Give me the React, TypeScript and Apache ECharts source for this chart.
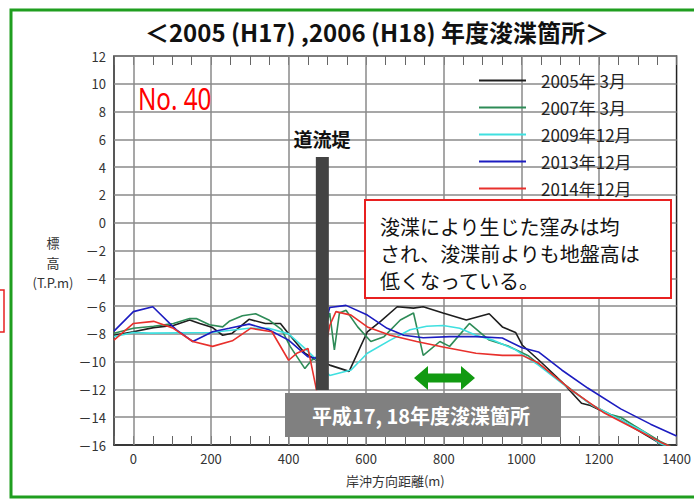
import React, { useEffect, useRef } from "react";
import * as echarts from "echarts";

// ---- data (distance m, elevation T.P.m) ----
const names = ["2005年 3月", "2007年 3月", "2009年12月", "2013年12月", "2014年12月"];
const colors = ["#1e1e1e", "#2e8b57", "#3fe0e0", "#1c1cc0", "#e8302c"];

const s2005: [number, number][] = [
  [-50, -8.1], [0, -7.85], [52, -7.55], [103, -7.4], [145, -7.0], [171, -7.25], [204, -7.55],
  [230, -8.1], [255, -7.95], [298, -6.95], [340, -7.25], [379, -7.25], [400, -8.0], [442, -9.4],
  [472, -9.9], [506, -10.25], [556, -10.7], [603, -7.85], [637, -7.1], [680, -6.05], [722, -6.15],
  [747, -6.05], [798, -6.5], [858, -7.0], [917, -6.55], [951, -7.5], [985, -7.9], [1002, -8.8],
  [1053, -10.1], [1104, -11.45], [1155, -13.0], [1178, -13.15], [1256, -14.2], [1358, -15.9], [1400, -16.3],
];
const s2007: [number, number][] = [
  [-50, -7.95], [0, -7.6], [52, -7.45], [103, -7.25], [145, -6.9], [162, -6.9], [196, -7.35],
  [230, -7.5], [247, -7.1], [281, -6.7], [315, -6.55], [349, -7.0], [382, -7.7], [404, -8.9],
  [442, -10.5], [459, -9.9], [472, -9.7], [506, -6.5], [518, -9.15], [531, -6.5], [548, -6.3],
  [578, -7.5], [612, -8.55], [646, -8.2], [688, -7.0], [722, -6.5], [747, -9.55], [790, -8.55],
  [815, -8.9], [866, -7.25], [917, -8.45], [968, -8.9], [1019, -9.6], [1104, -11.5], [1180, -13.1],
  [1230, -13.8], [1256, -14.0], [1290, -14.6], [1358, -15.75], [1400, -16.3],
];
const s2009: [number, number][] = [
  [-50, -8.2], [0, -7.9], [43, -7.95], [200, -7.9], [298, -7.6], [349, -7.6], [400, -8.0],
  [442, -9.05], [468, -9.75], [506, -11.0], [561, -10.6], [603, -9.4], [662, -8.45], [713, -7.7],
  [756, -7.45], [798, -7.4], [841, -7.6], [883, -8.1], [926, -8.45], [985, -9.15], [1044, -10.25],
  [1104, -11.55], [1180, -13.1], [1256, -14.2], [1316, -15.05], [1358, -15.9], [1400, -16.4],
];
const s2013: [number, number][] = [
  [-50, -7.8], [0, -6.4], [50, -6.05], [110, -7.7], [153, -8.55], [204, -7.85], [247, -7.6],
  [298, -7.3], [349, -7.7], [400, -8.45], [450, -9.65], [471, -9.75], [506, -6.1], [548, -5.95],
  [603, -6.65], [654, -7.6], [697, -8.1], [747, -8.28], [815, -8.2], [883, -8.2], [951, -8.3],
  [1002, -9.0], [1044, -9.3], [1104, -10.6], [1171, -11.9], [1256, -13.4], [1333, -14.5], [1400, -15.35],
];
const s2014: [number, number][] = [
  [-50, -8.45], [0, -7.25], [52, -7.1], [103, -7.6], [153, -8.55], [204, -8.9], [255, -8.5],
  [302, -7.6], [357, -7.85], [400, -9.9], [421, -9.4], [450, -9.05], [472, -12.05], [506, -7.4],
  [522, -6.4], [561, -6.65], [603, -7.5], [662, -8.1], [730, -8.55], [798, -8.95], [883, -9.4],
  [951, -9.55], [1002, -9.55], [1044, -10.1], [1129, -12.05], [1214, -13.7], [1290, -14.8],
  [1366, -15.9], [1400, -16.3],
];
const jetty: [number, number][] = [[487, -12.05], [487, 4.73]];

const gridX = [0, 200, 400, 600, 800, 1000, 1200];
const xLabelValues = [0, 200, 400, 600, 800, 1000, 1200, 1400];
const X_MIN = -50;
const X_MAX = 1400;
const Y_MIN = -16;
const Y_MAX = 12;

const FONT = "'Noto Sans CJK JP', 'Noto Sans', sans-serif";
const ZTOP = 100;

export default function App() {
  const ref = useRef<HTMLDivElement>(null);
  useEffect(() => {
    if (!ref.current) return;
    const chart = echarts.init(ref.current, undefined, { renderer: "svg" });
    const allSeries = [s2005, s2007, s2009, s2013, s2014];
    const series: any[] = allSeries.map((d, i) => ({
      name: names[i],
      type: "line",
      data: d,
      symbol: "none",
      z: 3,
      lineStyle: { color: colors[i], width: 1.6 },
      itemStyle: { color: colors[i] },
    }));
    series.push({
      name: "grid",
      type: "line",
      data: [],
      z: 1,
      silent: true,
      markLine: {
        z: 1,
        silent: true,
        symbol: "none",
        label: { show: false },
        lineStyle: { color: "#8a8a8a", width: 1.5, type: "solid" },
        data: gridX.map((v) => ({ xAxis: v })),
      },
    });
    series.push({
      name: "道流堤",
      type: "line",
      data: jetty,
      symbol: "none",
      z: 10,
      lineStyle: { color: "#434343", width: 13, cap: "butt" },
    });

    chart.setOption({
      animation: false,
      backgroundColor: "#ffffff",
      textStyle: { fontFamily: FONT },
      grid: {
        left: 114,
        right: 11,
        top: 56,
        bottom: 57,
        show: true,
        borderColor: "#222",
        borderWidth: 1.5,
        backgroundColor: "transparent",
      },
      legend: {
        data: names,
        orient: "vertical",
        left: 473,
        top: 67,
        itemWidth: 47,
        itemHeight: 14,
        itemGap: 10,
        itemStyle: { opacity: 0 },
        textStyle: { fontSize: 17, color: "#222", lineHeight: 17, padding: [0, 0, 0, 10], fontFamily: FONT },
      },
      xAxis: [
        {
          type: "value",
          min: X_MIN,
          max: X_MAX,
          interval: 50,
          position: "bottom",
          axisLine: { show: true, onZero: false, lineStyle: { color: "#222", width: 1.5 } },
          axisTick: { show: true, inside: true, length: 9, lineStyle: { color: "#666", width: 1 } },
          splitLine: { show: false },
          axisLabel: {
            margin: 7,
            fontSize: 13,
            color: "#333",
            formatter: (v: number) => (xLabelValues.indexOf(v) >= 0 ? String(v) : ""),
          },
          name: "岸沖方向距離(m)",
          nameLocation: "middle",
          nameGap: 29,
          nameTextStyle: { fontSize: 13, color: "#333", fontFamily: FONT },
        },
        {
          type: "value",
          min: X_MIN,
          max: X_MAX,
          interval: 50,
          position: "top",
          axisLine: { show: false, onZero: false },
          axisTick: { show: true, inside: true, length: 9, lineStyle: { color: "#666", width: 1 } },
          splitLine: { show: false },
          axisLabel: { show: false },
        },
      ],
      yAxis: {
        type: "value",
        min: Y_MIN,
        max: Y_MAX,
        interval: 2,
        axisLine: { show: false },
        axisTick: { show: false },
        splitLine: { show: true, lineStyle: { color: "#8a8a8a", width: 1.5 } },
        axisLabel: {
          margin: 8,
          fontSize: 13,
          color: "#333",
          formatter: (v: number) => (v < 0 ? "－" + String(-v) : String(v)),
        },
      },
      series,
      graphic: [
        {
          type: "rect",
          shape: { x: 11, y: 10, width: 700, height: 487 },
          style: { fill: "none", stroke: "#1f9e1f", lineWidth: 3 },
          silent: true,
          z: 0,
        },
        {
          type: "rect",
          shape: { x: -20, y: 290, width: 24, height: 42 },
          style: { fill: "none", stroke: "#e82020", lineWidth: 1.5 },
          silent: true,
        },
        {
          type: "text",
          x: 377,
          y: 31,
          style: {
            text: "＜2005 (H17) ,2006 (H18) 年度浚渫箇所＞",
            fontSize: 24,
            fontWeight: "bold",
            fill: "#111",
            align: "center",
            verticalAlign: "middle",
            fontFamily: FONT,
          },
        },
        {
          type: "text",
          x: 53,
          y: 232,
          style: {
            text: "標\n高\n(T.P.m)",
            fontSize: 13,
            lineHeight: 20,
            fill: "#333",
            align: "center",
            fontFamily: FONT,
          },
        },
        {
          type: "text",
          x: 138,
          y: 82,
          scaleX: 0.78,
          z: ZTOP,
          style: {
            text: "No. 40",
            fontSize: 31,
            fill: "#ff0000",
            fontFamily: "'Noto Sans', sans-serif",
          },
        },
        {
          type: "text",
          x: 322,
          y: 138,
          z: ZTOP,
          style: {
            text: "道流堤",
            fontSize: 19,
            fontWeight: "bold",
            fill: "#111",
            align: "center",
            verticalAlign: "middle",
            fontFamily: FONT,
          },
        },
        {
          type: "rect",
          z: ZTOP,
          shape: { x: 365, y: 200, width: 306, height: 98 },
          style: { fill: "#ffffff", stroke: "#e82020", lineWidth: 2 },
        },
        {
          type: "text",
          z: ZTOP + 1,
          x: 380,
          y: 213,
          style: {
            text: "浚渫により生じた窪みは均\nされ、浚渫前よりも地盤高は\n低くなっている。",
            fontSize: 20,
            lineHeight: 27,
            fill: "#111",
            fontFamily: FONT,
          },
        },
        {
          type: "rect",
          z: ZTOP,
          shape: { x: 285, y: 393, width: 276, height: 44 },
          style: { fill: "#808080" },
        },
        {
          type: "text",
          z: ZTOP + 1,
          x: 421,
          y: 415,
          style: {
            text: "平成17, 18年度浚渫箇所",
            fontSize: 20,
            fontWeight: "bold",
            fill: "#ffffff",
            align: "center",
            verticalAlign: "middle",
            fontFamily: FONT,
          },
        },
        {
          type: "polygon",
          z: ZTOP,
          shape: {
            points: [
              [414, 378], [428, 366], [428, 373.5], [461, 373.5], [461, 366], [475, 378],
              [461, 390], [461, 382.5], [428, 382.5], [428, 390],
            ],
          },
          style: { fill: "#119a11" },
        },
      ],
    });
    return () => chart.dispose();
  }, []);
  return (
    <div
      ref={ref}
      style={{ position: "fixed", left: 0, top: 0, width: 694, height: 502, background: "#fff" }}
    />
  );
}
